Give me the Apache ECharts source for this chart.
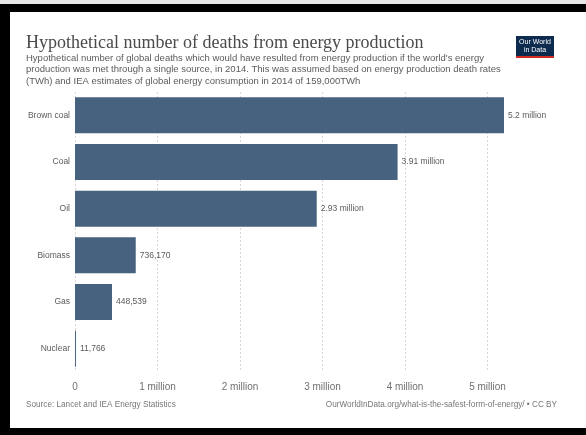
<!DOCTYPE html>
<html lang="en">
<head>
  <meta charset="UTF-8">
  <title>Hypothetical number of deaths from energy production</title>
  <style>
    html, body { margin: 0; padding: 0; background: #fff; }
    #main { width: 586px; height: 435px; }
  </style>
  <script src="https://cdn.jsdelivr.net/npm/echarts@6/dist/echarts.min.js"></script>
</head>
<body>
  <div id="main"></div>
  <script>
    // data
    var sources = ['Brown coal', 'Coal', 'Oil', 'Biomass', 'Gas', 'Nuclear'];
    var deaths = [5200000, 3910000, 2930000, 736170, 448539, 11766];
    var tickLabels = ['0', '1 million', '2 million', '3 million', '4 million', '5 million'];

    var barColor = '#46627f';
    var textGray = '#5b5b5b';

    function fmtValue(v) {
      if (v >= 1000000) {
        return (Math.round(v / 10000) / 100) + ' million';
      }
      return v.toLocaleString('en-US');
    }

    var myChart = echarts.init(document.getElementById('main'));

    var option = {
      backgroundColor: '#fff',
      animation: false,
      title: [
        {
          text: 'Hypothetical number of deaths from energy production',
          left: 26,
          top: 34,
          padding: 0,
          textStyle: {
            fontFamily: 'Liberation Serif',
            fontWeight: 'normal',
            fontSize: 18,
            color: '#4a4a4a'
          }
        },
        {
          text: "Hypothetical number of global deaths which would have resulted from energy production if the world's energy\n" +
            'production was met through a single source, in 2014. This was assumed based on energy production death rates\n' +
            '(TWh) and IEA estimates of global energy consumption in 2014 of 159,000TWh',
          left: 26,
          top: 53,
          padding: 0,
          textStyle: {
            fontFamily: 'Liberation Sans',
            fontWeight: 'normal',
            fontSize: 9.5,
            lineHeight: 11.2,
            color: textGray
          }
        },
        {
          text: 'Source: Lancet and IEA Energy Statistics',
          left: 26,
          top: 401,
          padding: 0,
          textStyle: { fontFamily: 'Liberation Sans', fontWeight: 'normal', fontSize: 8.2, color: '#777' }
        },
        {
          text: 'OurWorldInData.org/what-is-the-safest-form-of-energy/ \u2022 CC BY',
          right: 29,
          top: 401,
          padding: 0,
          textStyle: { fontFamily: 'Liberation Sans', fontWeight: 'normal', fontSize: 8.2, color: '#777' }
        }
      ],
      graphic: [
        // photo frame
        { type: 'rect', shape: { x: 0, y: 0, width: 586, height: 4 }, style: { fill: '#e8e8e8' } },
        { type: 'rect', shape: { x: 0, y: 4, width: 586, height: 8 }, style: { fill: '#000' } },
        { type: 'rect', shape: { x: 0, y: 4, width: 10, height: 431 }, style: { fill: '#000' } },
        { type: 'rect', shape: { x: 0, y: 428, width: 586, height: 7 }, style: { fill: '#000' } },
        // logo
        { type: 'rect', shape: { x: 516, y: 36, width: 38, height: 20 }, style: { fill: '#0d2a4f' } },
        { type: 'rect', shape: { x: 516, y: 56, width: 38, height: 2 }, style: { fill: '#d42b21' } },
        {
          type: 'text', x: 535, y: 38.5,
          style: {
            text: 'Our World\nin Data', fill: '#fff', align: 'center', verticalAlign: 'top',
            font: '7px "Liberation Sans"', lineHeight: 7.5
          }
        }
      ],
      grid: {
        left: 75,
        top: 92,
        width: 429,
        height: 280
      },
      xAxis: {
        type: 'value',
        min: 0,
        max: 5200000,
        interval: 1000000,
        axisLine: { show: false },
        axisTick: { show: false },
        axisLabel: {
          margin: 10,
          fontFamily: 'Liberation Sans',
          fontSize: 10,
          color: '#707070',
          showMaxLabel: false,
          formatter: function (v) {
            return tickLabels[Math.round(v / 1000000)] || '';
          }
        },
        splitLine: {
          show: true,
          showMaxLine: false,
          lineStyle: { color: '#d6d6d6', type: [2, 2], width: 1 }
        }
      },
      yAxis: {
        type: 'category',
        inverse: true,
        data: sources,
        axisLine: { show: false },
        axisTick: { show: false },
        axisLabel: {
          margin: 5,
          fontFamily: 'Liberation Sans',
          fontSize: 8.5,
          color: textGray
        }
      },
      series: [
        {
          type: 'bar',
          data: deaths,
          barCategoryGap: '23%',
          itemStyle: { color: barColor },
          label: {
            show: true,
            position: 'right',
            distance: 4,
            fontFamily: 'Liberation Sans',
            fontSize: 8.5,
            color: textGray,
            formatter: function (p) { return fmtValue(p.value); }
          }
        }
      ]
    };

    myChart.setOption(option);
  </script>
</body>
</html>
